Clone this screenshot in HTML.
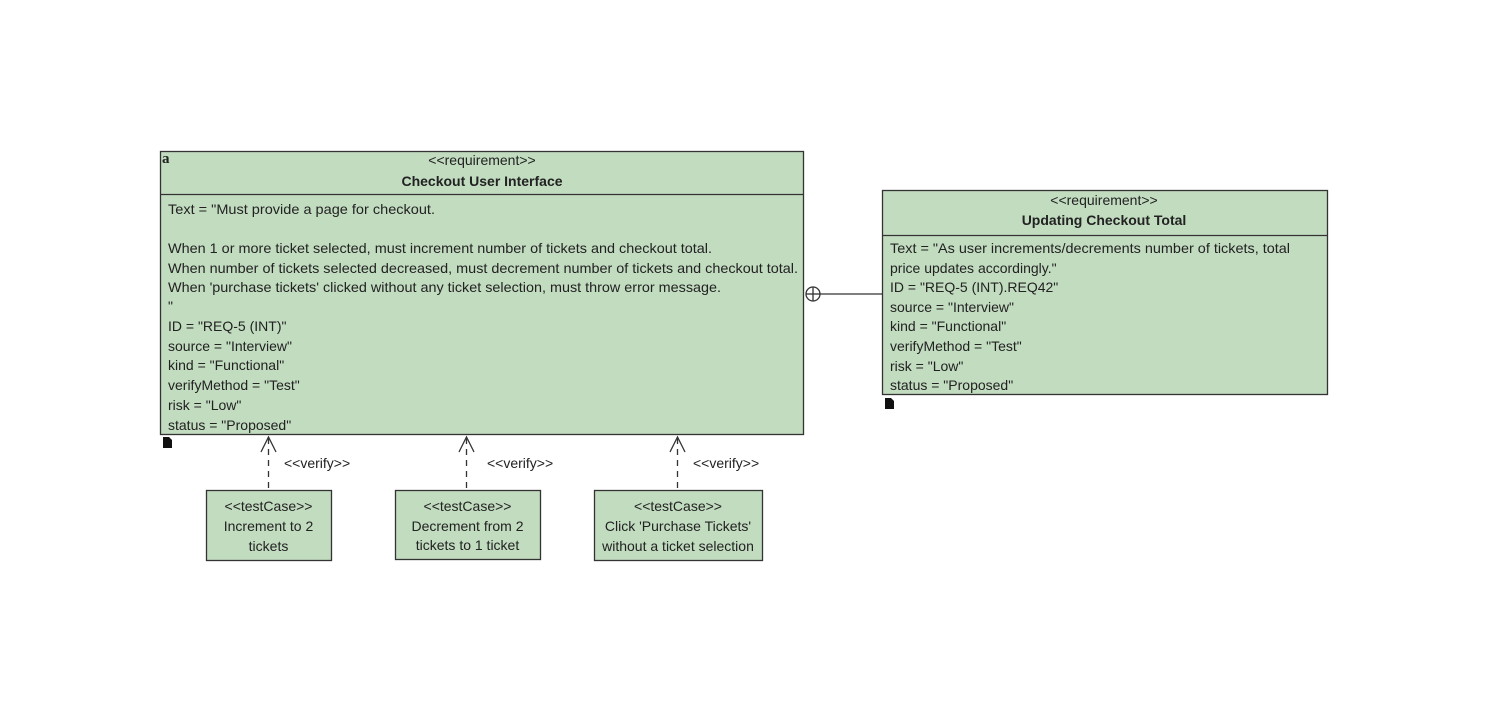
<!DOCTYPE html>
<html><head><meta charset="utf-8"><style>html,body{margin:0;padding:0;background:#fff}</style></head><body>
<svg width="1492" height="712" viewBox="0 0 1492 712" xmlns="http://www.w3.org/2000/svg" font-family="Liberation Sans, Arial, sans-serif" font-size="14" fill="#222">
<g stroke="#333" stroke-width="1.3" fill="#c2dcc0">
<rect x="160.5" y="151.5" width="643" height="283"/>
<rect x="882.5" y="190.5" width="445" height="204"/>
<rect x="206.5" y="490.5" width="125" height="70"/>
<rect x="395.5" y="490.5" width="145" height="69"/>
<rect x="594.5" y="490.5" width="168" height="70"/>
</g>
<g stroke="#333" stroke-width="1.3">
<line x1="160" y1="194.5" x2="803" y2="194.5"/>
<line x1="882" y1="235.5" x2="1327" y2="235.5"/>
<line x1="820" y1="294" x2="882" y2="294"/>
<circle cx="813" cy="294" r="7" fill="#fff"/>
<line x1="806" y1="294" x2="820" y2="294"/>
<line x1="813" y1="287" x2="813" y2="301"/>
</g>
<g stroke="#333" stroke-width="1.3" fill="none">
<line x1="268.5" y1="438" x2="268.5" y2="490" stroke-dasharray="6,5"/>
<polyline points="261,452 268.5,437 276,452"/>
<line x1="466.5" y1="438" x2="466.5" y2="490" stroke-dasharray="6,5"/>
<polyline points="459,452 466.5,437 474,452"/>
<line x1="677.5" y1="438" x2="677.5" y2="490" stroke-dasharray="6,5"/>
<polyline points="670,452 677.5,437 685,452"/>
</g>
<text x="162" y="163" font-family="Liberation Serif, serif" font-weight="bold" font-size="15">a</text>
<text x="482" y="165" text-anchor="middle">&lt;&lt;requirement&gt;&gt;</text>
<text x="482" y="186" text-anchor="middle" font-weight="bold">Checkout User Interface</text>
<g>
<text x="168" y="214" textLength="267" lengthAdjust="spacingAndGlyphs">Text = "Must provide a page for checkout.</text>
<text x="168" y="253" textLength="544" lengthAdjust="spacingAndGlyphs">When 1 or more ticket selected, must increment number of tickets and checkout total.</text>
<text x="168" y="273" textLength="630" lengthAdjust="spacingAndGlyphs">When number of tickets selected decreased, must decrement number of tickets and checkout total.</text>
<text x="168" y="292" textLength="553" lengthAdjust="spacingAndGlyphs">When 'purchase tickets' clicked without any ticket selection, must throw error message.</text>
<text x="168" y="311"> "</text>
<text x="168" y="331">ID = "REQ-5 (INT)"</text>
<text x="168" y="351">source = "Interview"</text>
<text x="168" y="370">kind = "Functional"</text>
<text x="168" y="390">verifyMethod = "Test"</text>
<text x="168" y="410">risk = "Low"</text>
<text x="168" y="430">status = "Proposed"</text>
</g>
<text x="1104" y="205" text-anchor="middle">&lt;&lt;requirement&gt;&gt;</text>
<text x="1104" y="225" text-anchor="middle" font-weight="bold">Updating Checkout Total</text>
<text x="890" y="253" textLength="400" lengthAdjust="spacingAndGlyphs">Text = "As user increments/decrements number of tickets, total</text>
<text x="890" y="273">price updates accordingly."</text>
<text x="890" y="292">ID = "REQ-5 (INT).REQ42"</text>
<text x="890" y="312">source = "Interview"</text>
<text x="890" y="331">kind = "Functional"</text>
<text x="890" y="351">verifyMethod = "Test"</text>
<text x="890" y="371">risk = "Low"</text>
<text x="890" y="390">status = "Proposed"</text>
<g fill="#111">
<path d="M163 437h6l3 3v8h-9z"/><path d="M885 398h6l3 3v8h-9z"/>
</g>
<text x="284" y="468">&lt;&lt;verify&gt;&gt;</text>
<text x="487" y="468">&lt;&lt;verify&gt;&gt;</text>
<text x="693" y="468">&lt;&lt;verify&gt;&gt;</text>
<g text-anchor="middle">
<text x="268.5" y="511">&lt;&lt;testCase&gt;&gt;</text>
<text x="268.5" y="531">Increment to 2</text>
<text x="268.5" y="551">tickets</text>
<text x="467.5" y="511">&lt;&lt;testCase&gt;&gt;</text>
<text x="467.5" y="531">Decrement from 2</text>
<text x="467.5" y="550">tickets to 1 ticket</text>
<text x="678" y="511">&lt;&lt;testCase&gt;&gt;</text>
<text x="678" y="531">Click 'Purchase Tickets'</text>
<text x="678" y="551">without a ticket selection</text>
</g>
</svg>
</body></html>
